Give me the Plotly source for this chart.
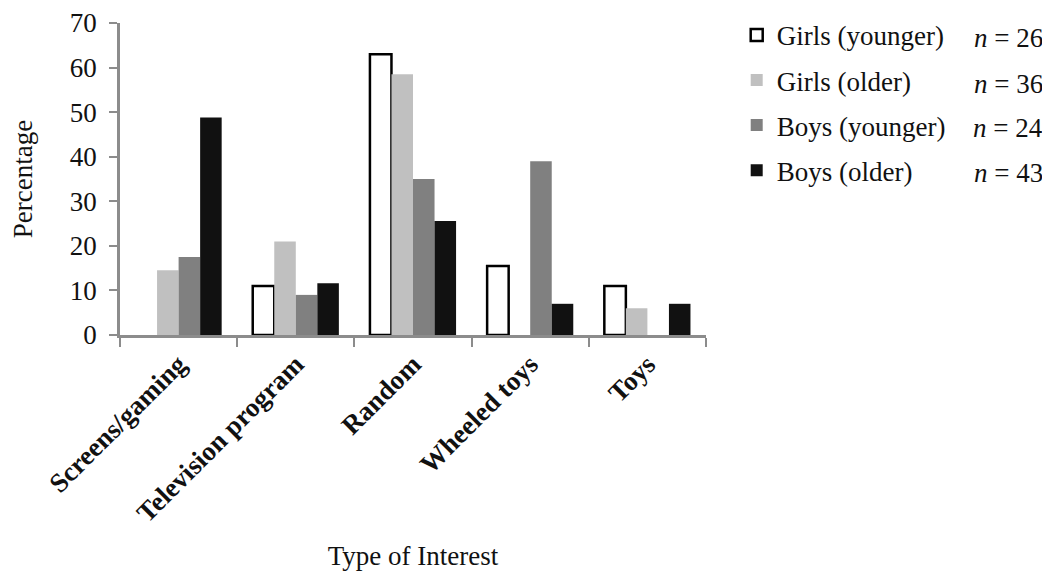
import plotly.graph_objects as go

categories = ["Screens/gaming", "Television program", "Random", "Wheeled toys", "Toys"]
series_names = ["Girls (younger)", "Girls (older)", "Boys (younger)", "Boys (older)"]
sample_sizes = ["26", "36", "24", "43"]
girls_younger = [0, 11, 63, 15.5, 11]
girls_older = [14.5, 21, 58.5, 0, 6]
boys_younger = [17.5, 9, 35, 39, 0]
boys_older = [48.8, 11.6, 25.6, 7.0, 7.0]
y_ticks = [0, 10, 20, 30, 40, 50, 60, 70]

series_values = [girls_younger, girls_older, boys_younger, boys_older]
fills = ["#ffffff", "#c0c0c0", "#808080", "#111111"]
lines = ["#000000", "#c0c0c0", "#808080", "#111111"]
line_w = [2.5, 0, 0, 0]

FONT = "Liberation Serif"
fig = go.Figure()
for i, (name, vals) in enumerate(zip(series_names, series_values)):
    # a zero share draws no bar at all
    yvals = [v if v > 0 else None for v in vals]
    fig.add_trace(go.Bar(
        x=categories, y=yvals, name=name,
        marker=dict(color=fills[i], line=dict(color=lines[i], width=line_w[i])),
        legendgroup=f"g{i}",
    ))

axis_col = "#8c8c8c"
fig.update_layout(
    width=1050, height=573,
    margin=dict(l=112, r=352, t=15, b=246, autoexpand=False),
    paper_bgcolor="white", plot_bgcolor="white",
    barmode="group", bargap=0.265, bargroupgap=0,
    font=dict(family=FONT, size=27, color="#111111"),
    showlegend=True,
    legend=dict(
        xref="container", yref="container", x=0.694, y=0.995,
        xanchor="left", yanchor="top",
        font=dict(family=FONT, size=27, color="#111111"),
        tracegroupgap=7, itemclick=False, bgcolor="rgba(0,0,0,0)",
    ),
    xaxis=dict(
        showline=True, linecolor=axis_col, linewidth=2.5,
        ticks="outside", tickson="boundaries", ticklen=9, tickwidth=2, tickcolor=axis_col,
        tickangle=-45, tickfont=dict(family=FONT, size=27, color="#111111", weight="bold"),
        title=dict(text="Type of Interest", font=dict(family=FONT, size=27, color="#111111"), standoff=20),
        showgrid=False, automargin=False,
    ),
    yaxis=dict(
        range=[0, 70], tickvals=y_ticks, showline=True, linecolor=axis_col, linewidth=2.5,
        ticks="outside", ticklen=8, tickwidth=2, tickcolor=axis_col, ticklabelstandoff=7,
        ticklabeloverflow="allow",
        tickfont=dict(family=FONT, size=27, color="#111111"),
        title=dict(text="Percentage", font=dict(family=FONT, size=27, color="#111111"), standoff=30),
        showgrid=False, zeroline=False, automargin=False,
    ),
)

# n labels placed in container pixels (row centres of the legend)
row_px = [30, 76, 120, 165]
for n, py in zip(sample_sizes, row_px):
    fig.add_annotation(
        xref="paper", yref="paper",
        x=(1037 - 112) / (1050 - 112 - 352),
        y=(573 - 246 - py) / (573 - 246 - 15),
        xanchor="right", yanchor="middle",
        text=f"<i>n</i> = {n}", showarrow=False,
        font=dict(family=FONT, size=27, color="#111111"),
    )

fig.write_html("out.html")
